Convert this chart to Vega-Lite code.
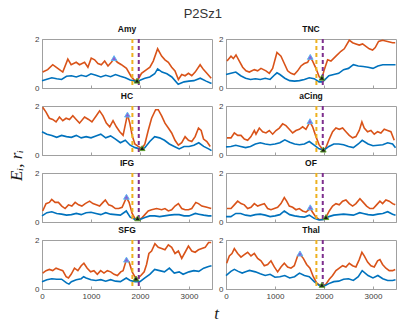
{
"$schema":"https://vega.github.io/schema/vega-lite/v6.json",
"autosize":{"type":"pad"},
"padding":{"left":6,"top":8,"right":10,"bottom":5},
"title":{"text":"P2Sz1","fontSize":13,"fontWeight":"normal","color":"#333333","offset":3,"anchor":"middle"},
"datasets":{
"ev":[{"k":"a","t":1845},{"k":"b","t":1975}],
"mk":[
{"p":"Amy","k":"peak","t":1471,"v":1.22},{"p":"Amy","k":"min","t":1940,"v":0.30},
{"p":"TNC","k":"peak","t":1720,"v":1.27},{"p":"TNC","k":"min","t":1958,"v":0.42},
{"p":"HC","k":"peak","t":1744,"v":1.65},{"p":"HC","k":"min","t":2045,"v":0.28},
{"p":"aCing","k":"peak","t":1714,"v":1.38},{"p":"aCing","k":"min","t":1986,"v":0.22},
{"p":"IFG","k":"peak","t":1724,"v":1.03},{"p":"IFG","k":"min","t":1950,"v":0.15},
{"p":"OF","k":"peak","t":1720,"v":0.60},{"p":"OF","k":"min","t":2040,"v":0.20},
{"p":"SFG","k":"peak","t":1724,"v":1.20},{"p":"SFG","k":"min","t":1918,"v":0.43},
{"p":"Thal","k":"peak","t":1510,"v":1.45},{"p":"Thal","k":"min","t":1958,"v":0.17}
],
"tr":[
{"p":"Amy","s":"E","t":14,"v":0.65},{"p":"Amy","s":"E","t":116,"v":0.75},{"p":"Amy","s":"E","t":219,"v":0.95},{"p":"Amy","s":"E","t":287,"v":0.85},{"p":"Amy","s":"E","t":356,"v":0.75},{"p":"Amy","s":"E","t":424,"v":0.65},{"p":"Amy","s":"E","t":527,"v":1.18},{"p":"Amy","s":"E","t":595,"v":0.95},{"p":"Amy","s":"E","t":698,"v":1.05},{"p":"Amy","s":"E","t":766,"v":0.95},{"p":"Amy","s":"E","t":869,"v":1.05},{"p":"Amy","s":"E","t":937,"v":0.85},{"p":"Amy","s":"E","t":1005,"v":1.22},{"p":"Amy","s":"E","t":1074,"v":1.15},{"p":"Amy","s":"E","t":1142,"v":1.0},{"p":"Amy","s":"E","t":1211,"v":0.95},{"p":"Amy","s":"E","t":1279,"v":1.1},{"p":"Amy","s":"E","t":1347,"v":0.9},{"p":"Amy","s":"E","t":1416,"v":1.05},{"p":"Amy","s":"E","t":1471,"v":1.2},{"p":"Amy","s":"E","t":1539,"v":1.05},{"p":"Amy","s":"E","t":1621,"v":0.95},{"p":"Amy","s":"E","t":1724,"v":0.8},{"p":"Amy","s":"E","t":1826,"v":0.45},{"p":"Amy","s":"E","t":1895,"v":0.3},{"p":"Amy","s":"E","t":1963,"v":0.35},{"p":"Amy","s":"E","t":2031,"v":0.6},{"p":"Amy","s":"E","t":2134,"v":0.75},{"p":"Amy","s":"E","t":2203,"v":0.85},{"p":"Amy","s":"E","t":2271,"v":1.1},{"p":"Amy","s":"E","t":2360,"v":1.6},{"p":"Amy","s":"E","t":2442,"v":1.3},{"p":"Amy","s":"E","t":2510,"v":1.15},{"p":"Amy","s":"E","t":2579,"v":1.05},{"p":"Amy","s":"E","t":2647,"v":0.85},{"p":"Amy","s":"E","t":2715,"v":0.7},{"p":"Amy","s":"E","t":2784,"v":0.35},{"p":"Amy","s":"E","t":2852,"v":0.55},{"p":"Amy","s":"E","t":2921,"v":0.5},{"p":"Amy","s":"E","t":2989,"v":0.6},{"p":"Amy","s":"E","t":3057,"v":0.5},{"p":"Amy","s":"E","t":3126,"v":0.65},{"p":"Amy","s":"E","t":3228,"v":0.95},{"p":"Amy","s":"E","t":3297,"v":0.75},{"p":"Amy","s":"E","t":3365,"v":0.6},{"p":"Amy","s":"E","t":3454,"v":0.4},
{"p":"Amy","s":"r","t":0,"v":0.30},{"p":"Amy","s":"r","t":100,"v":0.36},{"p":"Amy","s":"r","t":200,"v":0.42},{"p":"Amy","s":"r","t":300,"v":0.38},{"p":"Amy","s":"r","t":400,"v":0.35},{"p":"Amy","s":"r","t":500,"v":0.48},{"p":"Amy","s":"r","t":600,"v":0.50},{"p":"Amy","s":"r","t":700,"v":0.45},{"p":"Amy","s":"r","t":800,"v":0.52},{"p":"Amy","s":"r","t":900,"v":0.47},{"p":"Amy","s":"r","t":1000,"v":0.58},{"p":"Amy","s":"r","t":1100,"v":0.52},{"p":"Amy","s":"r","t":1200,"v":0.45},{"p":"Amy","s":"r","t":1300,"v":0.52},{"p":"Amy","s":"r","t":1400,"v":0.46},{"p":"Amy","s":"r","t":1500,"v":0.55},{"p":"Amy","s":"r","t":1600,"v":0.48},{"p":"Amy","s":"r","t":1700,"v":0.42},{"p":"Amy","s":"r","t":1800,"v":0.33},{"p":"Amy","s":"r","t":1900,"v":0.28},{"p":"Amy","s":"r","t":2000,"v":0.32},{"p":"Amy","s":"r","t":2100,"v":0.40},{"p":"Amy","s":"r","t":2200,"v":0.45},{"p":"Amy","s":"r","t":2300,"v":0.58},{"p":"Amy","s":"r","t":2360,"v":0.78},{"p":"Amy","s":"r","t":2450,"v":0.65},{"p":"Amy","s":"r","t":2550,"v":0.58},{"p":"Amy","s":"r","t":2650,"v":0.45},{"p":"Amy","s":"r","t":2780,"v":0.15},{"p":"Amy","s":"r","t":2900,"v":0.25},{"p":"Amy","s":"r","t":3000,"v":0.28},{"p":"Amy","s":"r","t":3100,"v":0.30},{"p":"Amy","s":"r","t":3230,"v":0.40},{"p":"Amy","s":"r","t":3350,"v":0.28},{"p":"Amy","s":"r","t":3460,"v":0.18},
{"p":"TNC","s":"E","t":20,"v":1.1},{"p":"TNC","s":"E","t":102,"v":1.3},{"p":"TNC","s":"E","t":150,"v":1.2},{"p":"TNC","s":"E","t":204,"v":1.35},{"p":"TNC","s":"E","t":272,"v":1.1},{"p":"TNC","s":"E","t":340,"v":0.85},{"p":"TNC","s":"E","t":408,"v":0.7},{"p":"TNC","s":"E","t":476,"v":0.65},{"p":"TNC","s":"E","t":578,"v":0.75},{"p":"TNC","s":"E","t":646,"v":0.7},{"p":"TNC","s":"E","t":714,"v":0.8},{"p":"TNC","s":"E","t":816,"v":0.7},{"p":"TNC","s":"E","t":884,"v":0.6},{"p":"TNC","s":"E","t":952,"v":0.8},{"p":"TNC","s":"E","t":1040,"v":1.45},{"p":"TNC","s":"E","t":1122,"v":1.3},{"p":"TNC","s":"E","t":1190,"v":1.0},{"p":"TNC","s":"E","t":1258,"v":0.7},{"p":"TNC","s":"E","t":1326,"v":0.6},{"p":"TNC","s":"E","t":1394,"v":0.55},{"p":"TNC","s":"E","t":1462,"v":0.7},{"p":"TNC","s":"E","t":1530,"v":0.9},{"p":"TNC","s":"E","t":1598,"v":1.0},{"p":"TNC","s":"E","t":1666,"v":1.05},{"p":"TNC","s":"E","t":1720,"v":1.25},{"p":"TNC","s":"E","t":1768,"v":1.1},{"p":"TNC","s":"E","t":1836,"v":0.8},{"p":"TNC","s":"E","t":1904,"v":0.45},{"p":"TNC","s":"E","t":1958,"v":0.4},{"p":"TNC","s":"E","t":2006,"v":0.75},{"p":"TNC","s":"E","t":2074,"v":1.15},{"p":"TNC","s":"E","t":2142,"v":1.1},{"p":"TNC","s":"E","t":2244,"v":1.3},{"p":"TNC","s":"E","t":2346,"v":1.5},{"p":"TNC","s":"E","t":2414,"v":1.6},{"p":"TNC","s":"E","t":2516,"v":1.95},{"p":"TNC","s":"E","t":2584,"v":1.85},{"p":"TNC","s":"E","t":2652,"v":1.8},{"p":"TNC","s":"E","t":2720,"v":1.75},{"p":"TNC","s":"E","t":2788,"v":1.8},{"p":"TNC","s":"E","t":2856,"v":1.7},{"p":"TNC","s":"E","t":2924,"v":1.6},{"p":"TNC","s":"E","t":2992,"v":1.55},{"p":"TNC","s":"E","t":3046,"v":1.65},{"p":"TNC","s":"E","t":3114,"v":1.9},{"p":"TNC","s":"E","t":3196,"v":1.95},{"p":"TNC","s":"E","t":3298,"v":1.9},{"p":"TNC","s":"E","t":3400,"v":1.85},{"p":"TNC","s":"E","t":3454,"v":1.85},
{"p":"TNC","s":"r","t":0,"v":0.55},{"p":"TNC","s":"r","t":100,"v":0.6},{"p":"TNC","s":"r","t":200,"v":0.65},{"p":"TNC","s":"r","t":300,"v":0.5},{"p":"TNC","s":"r","t":400,"v":0.4},{"p":"TNC","s":"r","t":500,"v":0.35},{"p":"TNC","s":"r","t":600,"v":0.38},{"p":"TNC","s":"r","t":700,"v":0.35},{"p":"TNC","s":"r","t":800,"v":0.4},{"p":"TNC","s":"r","t":900,"v":0.35},{"p":"TNC","s":"r","t":1000,"v":0.55},{"p":"TNC","s":"r","t":1040,"v":0.62},{"p":"TNC","s":"r","t":1100,"v":0.55},{"p":"TNC","s":"r","t":1200,"v":0.4},{"p":"TNC","s":"r","t":1300,"v":0.3},{"p":"TNC","s":"r","t":1400,"v":0.28},{"p":"TNC","s":"r","t":1500,"v":0.3},{"p":"TNC","s":"r","t":1600,"v":0.35},{"p":"TNC","s":"r","t":1700,"v":0.42},{"p":"TNC","s":"r","t":1800,"v":0.38},{"p":"TNC","s":"r","t":1900,"v":0.25},{"p":"TNC","s":"r","t":1960,"v":0.25},{"p":"TNC","s":"r","t":2000,"v":0.3},{"p":"TNC","s":"r","t":2100,"v":0.5},{"p":"TNC","s":"r","t":2200,"v":0.55},{"p":"TNC","s":"r","t":2300,"v":0.6},{"p":"TNC","s":"r","t":2400,"v":0.75},{"p":"TNC","s":"r","t":2500,"v":0.8},{"p":"TNC","s":"r","t":2600,"v":0.95},{"p":"TNC","s":"r","t":2700,"v":0.9},{"p":"TNC","s":"r","t":2800,"v":0.88},{"p":"TNC","s":"r","t":2900,"v":0.85},{"p":"TNC","s":"r","t":3000,"v":0.8},{"p":"TNC","s":"r","t":3100,"v":0.9},{"p":"TNC","s":"r","t":3200,"v":0.95},{"p":"TNC","s":"r","t":3300,"v":0.95},{"p":"TNC","s":"r","t":3460,"v":0.95},
{"p":"HC","s":"E","t":14,"v":1.95},{"p":"HC","s":"E","t":82,"v":1.75},{"p":"HC","s":"E","t":150,"v":1.5},{"p":"HC","s":"E","t":219,"v":1.45},{"p":"HC","s":"E","t":287,"v":1.35},{"p":"HC","s":"E","t":356,"v":1.55},{"p":"HC","s":"E","t":424,"v":1.4},{"p":"HC","s":"E","t":492,"v":1.5},{"p":"HC","s":"E","t":561,"v":1.45},{"p":"HC","s":"E","t":629,"v":1.6},{"p":"HC","s":"E","t":698,"v":1.45},{"p":"HC","s":"E","t":766,"v":1.3},{"p":"HC","s":"E","t":869,"v":1.55},{"p":"HC","s":"E","t":951,"v":1.45},{"p":"HC","s":"E","t":1019,"v":1.35},{"p":"HC","s":"E","t":1108,"v":1.6},{"p":"HC","s":"E","t":1176,"v":1.8},{"p":"HC","s":"E","t":1245,"v":1.6},{"p":"HC","s":"E","t":1313,"v":1.3},{"p":"HC","s":"E","t":1382,"v":1.15},{"p":"HC","s":"E","t":1450,"v":1.4},{"p":"HC","s":"E","t":1518,"v":1.15},{"p":"HC","s":"E","t":1587,"v":0.95},{"p":"HC","s":"E","t":1655,"v":0.8},{"p":"HC","s":"E","t":1744,"v":1.65},{"p":"HC","s":"E","t":1792,"v":1.3},{"p":"HC","s":"E","t":1840,"v":0.8},{"p":"HC","s":"E","t":1895,"v":0.45},{"p":"HC","s":"E","t":1963,"v":0.35},{"p":"HC","s":"E","t":2045,"v":0.27},{"p":"HC","s":"E","t":2100,"v":0.45},{"p":"HC","s":"E","t":2168,"v":1.0},{"p":"HC","s":"E","t":2237,"v":1.5},{"p":"HC","s":"E","t":2319,"v":1.85},{"p":"HC","s":"E","t":2373,"v":1.85},{"p":"HC","s":"E","t":2442,"v":1.6},{"p":"HC","s":"E","t":2510,"v":1.3},{"p":"HC","s":"E","t":2579,"v":1.1},{"p":"HC","s":"E","t":2647,"v":0.9},{"p":"HC","s":"E","t":2715,"v":0.6},{"p":"HC","s":"E","t":2784,"v":0.4},{"p":"HC","s":"E","t":2852,"v":0.5},{"p":"HC","s":"E","t":2921,"v":0.75},{"p":"HC","s":"E","t":2989,"v":0.6},{"p":"HC","s":"E","t":3057,"v":0.55},{"p":"HC","s":"E","t":3126,"v":0.75},{"p":"HC","s":"E","t":3194,"v":1.1},{"p":"HC","s":"E","t":3249,"v":1.0},{"p":"HC","s":"E","t":3297,"v":0.65},{"p":"HC","s":"E","t":3365,"v":0.55},{"p":"HC","s":"E","t":3434,"v":0.35},
{"p":"HC","s":"r","t":0,"v":0.95},{"p":"HC","s":"r","t":100,"v":0.85},{"p":"HC","s":"r","t":200,"v":0.8},{"p":"HC","s":"r","t":300,"v":0.72},{"p":"HC","s":"r","t":400,"v":0.8},{"p":"HC","s":"r","t":500,"v":0.75},{"p":"HC","s":"r","t":600,"v":0.72},{"p":"HC","s":"r","t":700,"v":0.8},{"p":"HC","s":"r","t":800,"v":0.7},{"p":"HC","s":"r","t":900,"v":0.75},{"p":"HC","s":"r","t":1000,"v":0.7},{"p":"HC","s":"r","t":1100,"v":0.78},{"p":"HC","s":"r","t":1200,"v":0.85},{"p":"HC","s":"r","t":1300,"v":0.7},{"p":"HC","s":"r","t":1400,"v":0.78},{"p":"HC","s":"r","t":1500,"v":0.65},{"p":"HC","s":"r","t":1600,"v":0.5},{"p":"HC","s":"r","t":1700,"v":0.6},{"p":"HC","s":"r","t":1800,"v":0.4},{"p":"HC","s":"r","t":1900,"v":0.3},{"p":"HC","s":"r","t":2000,"v":0.25},{"p":"HC","s":"r","t":2050,"v":0.25},{"p":"HC","s":"r","t":2100,"v":0.3},{"p":"HC","s":"r","t":2200,"v":0.55},{"p":"HC","s":"r","t":2300,"v":0.75},{"p":"HC","s":"r","t":2400,"v":0.7},{"p":"HC","s":"r","t":2500,"v":0.6},{"p":"HC","s":"r","t":2600,"v":0.45},{"p":"HC","s":"r","t":2700,"v":0.35},{"p":"HC","s":"r","t":2800,"v":0.25},{"p":"HC","s":"r","t":2900,"v":0.35},{"p":"HC","s":"r","t":3000,"v":0.35},{"p":"HC","s":"r","t":3100,"v":0.4},{"p":"HC","s":"r","t":3200,"v":0.5},{"p":"HC","s":"r","t":3300,"v":0.35},{"p":"HC","s":"r","t":3400,"v":0.25},{"p":"HC","s":"r","t":3460,"v":0.18},
{"p":"aCing","s":"E","t":20,"v":0.7},{"p":"aCing","s":"E","t":102,"v":0.7},{"p":"aCing","s":"E","t":170,"v":0.9},{"p":"aCing","s":"E","t":238,"v":0.8},{"p":"aCing","s":"E","t":306,"v":0.8},{"p":"aCing","s":"E","t":374,"v":0.65},{"p":"aCing","s":"E","t":442,"v":0.6},{"p":"aCing","s":"E","t":510,"v":0.75},{"p":"aCing","s":"E","t":578,"v":1.0},{"p":"aCing","s":"E","t":612,"v":0.85},{"p":"aCing","s":"E","t":680,"v":1.1},{"p":"aCing","s":"E","t":748,"v":0.95},{"p":"aCing","s":"E","t":816,"v":0.9},{"p":"aCing","s":"E","t":884,"v":1.0},{"p":"aCing","s":"E","t":952,"v":0.85},{"p":"aCing","s":"E","t":1020,"v":1.0},{"p":"aCing","s":"E","t":1088,"v":1.1},{"p":"aCing","s":"E","t":1156,"v":1.27},{"p":"aCing","s":"E","t":1224,"v":1.2},{"p":"aCing","s":"E","t":1292,"v":1.05},{"p":"aCing","s":"E","t":1360,"v":0.9},{"p":"aCing","s":"E","t":1428,"v":1.0},{"p":"aCing","s":"E","t":1496,"v":1.05},{"p":"aCing","s":"E","t":1564,"v":1.15},{"p":"aCing","s":"E","t":1632,"v":1.05},{"p":"aCing","s":"E","t":1714,"v":1.35},{"p":"aCing","s":"E","t":1768,"v":1.15},{"p":"aCing","s":"E","t":1836,"v":0.75},{"p":"aCing","s":"E","t":1904,"v":0.4},{"p":"aCing","s":"E","t":1986,"v":0.2},{"p":"aCing","s":"E","t":2040,"v":0.3},{"p":"aCing","s":"E","t":2108,"v":0.65},{"p":"aCing","s":"E","t":2176,"v":0.95},{"p":"aCing","s":"E","t":2244,"v":1.1},{"p":"aCing","s":"E","t":2312,"v":1.05},{"p":"aCing","s":"E","t":2380,"v":1.1},{"p":"aCing","s":"E","t":2448,"v":0.95},{"p":"aCing","s":"E","t":2516,"v":0.8},{"p":"aCing","s":"E","t":2584,"v":0.7},{"p":"aCing","s":"E","t":2652,"v":0.75},{"p":"aCing","s":"E","t":2720,"v":1.0},{"p":"aCing","s":"E","t":2774,"v":1.35},{"p":"aCing","s":"E","t":2822,"v":1.1},{"p":"aCing","s":"E","t":2890,"v":0.95},{"p":"aCing","s":"E","t":2958,"v":1.0},{"p":"aCing","s":"E","t":3026,"v":0.85},{"p":"aCing","s":"E","t":3094,"v":0.95},{"p":"aCing","s":"E","t":3162,"v":0.9},{"p":"aCing","s":"E","t":3230,"v":1.05},{"p":"aCing","s":"E","t":3298,"v":1.0},{"p":"aCing","s":"E","t":3366,"v":0.95},{"p":"aCing","s":"E","t":3434,"v":0.6},
{"p":"aCing","s":"r","t":0,"v":0.33},{"p":"aCing","s":"r","t":100,"v":0.35},{"p":"aCing","s":"r","t":200,"v":0.4},{"p":"aCing","s":"r","t":300,"v":0.35},{"p":"aCing","s":"r","t":400,"v":0.3},{"p":"aCing","s":"r","t":500,"v":0.35},{"p":"aCing","s":"r","t":600,"v":0.45},{"p":"aCing","s":"r","t":700,"v":0.5},{"p":"aCing","s":"r","t":800,"v":0.45},{"p":"aCing","s":"r","t":900,"v":0.42},{"p":"aCing","s":"r","t":1000,"v":0.45},{"p":"aCing","s":"r","t":1100,"v":0.5},{"p":"aCing","s":"r","t":1200,"v":0.62},{"p":"aCing","s":"r","t":1300,"v":0.52},{"p":"aCing","s":"r","t":1400,"v":0.45},{"p":"aCing","s":"r","t":1500,"v":0.42},{"p":"aCing","s":"r","t":1600,"v":0.45},{"p":"aCing","s":"r","t":1700,"v":0.55},{"p":"aCing","s":"r","t":1800,"v":0.4},{"p":"aCing","s":"r","t":1900,"v":0.25},{"p":"aCing","s":"r","t":2000,"v":0.2},{"p":"aCing","s":"r","t":2100,"v":0.35},{"p":"aCing","s":"r","t":2200,"v":0.45},{"p":"aCing","s":"r","t":2300,"v":0.45},{"p":"aCing","s":"r","t":2400,"v":0.42},{"p":"aCing","s":"r","t":2500,"v":0.35},{"p":"aCing","s":"r","t":2600,"v":0.3},{"p":"aCing","s":"r","t":2700,"v":0.45},{"p":"aCing","s":"r","t":2780,"v":0.6},{"p":"aCing","s":"r","t":2900,"v":0.45},{"p":"aCing","s":"r","t":3000,"v":0.38},{"p":"aCing","s":"r","t":3100,"v":0.4},{"p":"aCing","s":"r","t":3200,"v":0.42},{"p":"aCing","s":"r","t":3300,"v":0.5},{"p":"aCing","s":"r","t":3400,"v":0.45},{"p":"aCing","s":"r","t":3460,"v":0.3},
{"p":"IFG","s":"E","t":14,"v":0.45},{"p":"IFG","s":"E","t":82,"v":0.75},{"p":"IFG","s":"E","t":150,"v":0.8},{"p":"IFG","s":"E","t":198,"v":0.92},{"p":"IFG","s":"E","t":267,"v":0.8},{"p":"IFG","s":"E","t":335,"v":0.8},{"p":"IFG","s":"E","t":404,"v":0.65},{"p":"IFG","s":"E","t":472,"v":0.55},{"p":"IFG","s":"E","t":540,"v":0.7},{"p":"IFG","s":"E","t":609,"v":0.65},{"p":"IFG","s":"E","t":677,"v":0.8},{"p":"IFG","s":"E","t":746,"v":0.7},{"p":"IFG","s":"E","t":814,"v":0.65},{"p":"IFG","s":"E","t":882,"v":0.75},{"p":"IFG","s":"E","t":971,"v":0.85},{"p":"IFG","s":"E","t":1040,"v":0.75},{"p":"IFG","s":"E","t":1108,"v":0.7},{"p":"IFG","s":"E","t":1176,"v":0.65},{"p":"IFG","s":"E","t":1245,"v":0.8},{"p":"IFG","s":"E","t":1293,"v":0.9},{"p":"IFG","s":"E","t":1361,"v":0.7},{"p":"IFG","s":"E","t":1430,"v":0.65},{"p":"IFG","s":"E","t":1498,"v":0.55},{"p":"IFG","s":"E","t":1566,"v":0.55},{"p":"IFG","s":"E","t":1635,"v":0.6},{"p":"IFG","s":"E","t":1724,"v":1.0},{"p":"IFG","s":"E","t":1778,"v":0.8},{"p":"IFG","s":"E","t":1840,"v":0.35},{"p":"IFG","s":"E","t":1895,"v":0.15},{"p":"IFG","s":"E","t":1963,"v":0.1},{"p":"IFG","s":"E","t":2031,"v":0.15},{"p":"IFG","s":"E","t":2100,"v":0.3},{"p":"IFG","s":"E","t":2168,"v":0.45},{"p":"IFG","s":"E","t":2237,"v":0.5},{"p":"IFG","s":"E","t":2339,"v":0.55},{"p":"IFG","s":"E","t":2442,"v":0.5},{"p":"IFG","s":"E","t":2510,"v":0.55},{"p":"IFG","s":"E","t":2579,"v":0.45},{"p":"IFG","s":"E","t":2647,"v":0.5},{"p":"IFG","s":"E","t":2715,"v":0.65},{"p":"IFG","s":"E","t":2784,"v":0.75},{"p":"IFG","s":"E","t":2852,"v":0.55},{"p":"IFG","s":"E","t":2921,"v":0.5},{"p":"IFG","s":"E","t":2989,"v":0.5},{"p":"IFG","s":"E","t":3057,"v":0.55},{"p":"IFG","s":"E","t":3140,"v":0.8},{"p":"IFG","s":"E","t":3194,"v":0.75},{"p":"IFG","s":"E","t":3263,"v":0.65},{"p":"IFG","s":"E","t":3365,"v":0.6},{"p":"IFG","s":"E","t":3454,"v":0.55},
{"p":"IFG","s":"r","t":0,"v":0.25},{"p":"IFG","s":"r","t":100,"v":0.38},{"p":"IFG","s":"r","t":200,"v":0.42},{"p":"IFG","s":"r","t":300,"v":0.35},{"p":"IFG","s":"r","t":400,"v":0.32},{"p":"IFG","s":"r","t":500,"v":0.28},{"p":"IFG","s":"r","t":600,"v":0.3},{"p":"IFG","s":"r","t":700,"v":0.35},{"p":"IFG","s":"r","t":800,"v":0.3},{"p":"IFG","s":"r","t":900,"v":0.38},{"p":"IFG","s":"r","t":1000,"v":0.4},{"p":"IFG","s":"r","t":1100,"v":0.35},{"p":"IFG","s":"r","t":1200,"v":0.3},{"p":"IFG","s":"r","t":1300,"v":0.38},{"p":"IFG","s":"r","t":1400,"v":0.32},{"p":"IFG","s":"r","t":1500,"v":0.3},{"p":"IFG","s":"r","t":1600,"v":0.28},{"p":"IFG","s":"r","t":1720,"v":0.45},{"p":"IFG","s":"r","t":1800,"v":0.2},{"p":"IFG","s":"r","t":1900,"v":0.1},{"p":"IFG","s":"r","t":2000,"v":0.1},{"p":"IFG","s":"r","t":2100,"v":0.18},{"p":"IFG","s":"r","t":2200,"v":0.25},{"p":"IFG","s":"r","t":2300,"v":0.25},{"p":"IFG","s":"r","t":2400,"v":0.22},{"p":"IFG","s":"r","t":2500,"v":0.25},{"p":"IFG","s":"r","t":2600,"v":0.28},{"p":"IFG","s":"r","t":2700,"v":0.3},{"p":"IFG","s":"r","t":2800,"v":0.3},{"p":"IFG","s":"r","t":2900,"v":0.25},{"p":"IFG","s":"r","t":3000,"v":0.25},{"p":"IFG","s":"r","t":3130,"v":0.35},{"p":"IFG","s":"r","t":3200,"v":0.32},{"p":"IFG","s":"r","t":3300,"v":0.28},{"p":"IFG","s":"r","t":3400,"v":0.25},{"p":"IFG","s":"r","t":3460,"v":0.25},
{"p":"OF","s":"E","t":20,"v":0.55},{"p":"OF","s":"E","t":102,"v":0.55},{"p":"OF","s":"E","t":170,"v":0.7},{"p":"OF","s":"E","t":238,"v":0.85},{"p":"OF","s":"E","t":306,"v":0.75},{"p":"OF","s":"E","t":374,"v":0.7},{"p":"OF","s":"E","t":442,"v":0.55},{"p":"OF","s":"E","t":510,"v":0.6},{"p":"OF","s":"E","t":578,"v":0.75},{"p":"OF","s":"E","t":646,"v":0.65},{"p":"OF","s":"E","t":714,"v":0.7},{"p":"OF","s":"E","t":782,"v":0.75},{"p":"OF","s":"E","t":850,"v":0.55},{"p":"OF","s":"E","t":918,"v":0.5},{"p":"OF","s":"E","t":986,"v":0.55},{"p":"OF","s":"E","t":1054,"v":0.6},{"p":"OF","s":"E","t":1122,"v":0.75},{"p":"OF","s":"E","t":1190,"v":1.0},{"p":"OF","s":"E","t":1238,"v":0.85},{"p":"OF","s":"E","t":1292,"v":0.65},{"p":"OF","s":"E","t":1360,"v":0.6},{"p":"OF","s":"E","t":1428,"v":0.5},{"p":"OF","s":"E","t":1496,"v":0.55},{"p":"OF","s":"E","t":1564,"v":0.45},{"p":"OF","s":"E","t":1632,"v":0.4},{"p":"OF","s":"E","t":1720,"v":0.55},{"p":"OF","s":"E","t":1768,"v":0.4},{"p":"OF","s":"E","t":1836,"v":0.2},{"p":"OF","s":"E","t":1904,"v":0.1},{"p":"OF","s":"E","t":1972,"v":0.1},{"p":"OF","s":"E","t":2040,"v":0.2},{"p":"OF","s":"E","t":2108,"v":0.45},{"p":"OF","s":"E","t":2176,"v":0.65},{"p":"OF","s":"E","t":2244,"v":0.75},{"p":"OF","s":"E","t":2312,"v":0.7},{"p":"OF","s":"E","t":2380,"v":0.85},{"p":"OF","s":"E","t":2448,"v":0.9},{"p":"OF","s":"E","t":2516,"v":0.75},{"p":"OF","s":"E","t":2584,"v":0.65},{"p":"OF","s":"E","t":2652,"v":0.75},{"p":"OF","s":"E","t":2734,"v":0.95},{"p":"OF","s":"E","t":2802,"v":0.8},{"p":"OF","s":"E","t":2870,"v":0.65},{"p":"OF","s":"E","t":2938,"v":0.55},{"p":"OF","s":"E","t":3006,"v":0.55},{"p":"OF","s":"E","t":3074,"v":0.7},{"p":"OF","s":"E","t":3142,"v":0.85},{"p":"OF","s":"E","t":3196,"v":0.75},{"p":"OF","s":"E","t":3264,"v":0.9},{"p":"OF","s":"E","t":3332,"v":0.85},{"p":"OF","s":"E","t":3400,"v":0.75},{"p":"OF","s":"E","t":3454,"v":0.7},
{"p":"OF","s":"r","t":0,"v":0.22},{"p":"OF","s":"r","t":100,"v":0.22},{"p":"OF","s":"r","t":200,"v":0.35},{"p":"OF","s":"r","t":300,"v":0.35},{"p":"OF","s":"r","t":400,"v":0.28},{"p":"OF","s":"r","t":500,"v":0.25},{"p":"OF","s":"r","t":600,"v":0.3},{"p":"OF","s":"r","t":700,"v":0.32},{"p":"OF","s":"r","t":800,"v":0.28},{"p":"OF","s":"r","t":900,"v":0.22},{"p":"OF","s":"r","t":1000,"v":0.25},{"p":"OF","s":"r","t":1100,"v":0.3},{"p":"OF","s":"r","t":1190,"v":0.45},{"p":"OF","s":"r","t":1300,"v":0.3},{"p":"OF","s":"r","t":1400,"v":0.25},{"p":"OF","s":"r","t":1500,"v":0.22},{"p":"OF","s":"r","t":1600,"v":0.2},{"p":"OF","s":"r","t":1700,"v":0.28},{"p":"OF","s":"r","t":1800,"v":0.15},{"p":"OF","s":"r","t":1900,"v":0.08},{"p":"OF","s":"r","t":2000,"v":0.1},{"p":"OF","s":"r","t":2100,"v":0.22},{"p":"OF","s":"r","t":2200,"v":0.28},{"p":"OF","s":"r","t":2300,"v":0.3},{"p":"OF","s":"r","t":2400,"v":0.32},{"p":"OF","s":"r","t":2500,"v":0.3},{"p":"OF","s":"r","t":2600,"v":0.28},{"p":"OF","s":"r","t":2730,"v":0.38},{"p":"OF","s":"r","t":2800,"v":0.35},{"p":"OF","s":"r","t":2900,"v":0.3},{"p":"OF","s":"r","t":3000,"v":0.28},{"p":"OF","s":"r","t":3100,"v":0.32},{"p":"OF","s":"r","t":3200,"v":0.35},{"p":"OF","s":"r","t":3300,"v":0.42},{"p":"OF","s":"r","t":3400,"v":0.32},{"p":"OF","s":"r","t":3460,"v":0.28},
{"p":"SFG","s":"E","t":14,"v":0.65},{"p":"SFG","s":"E","t":82,"v":0.75},{"p":"SFG","s":"E","t":150,"v":0.8},{"p":"SFG","s":"E","t":219,"v":0.75},{"p":"SFG","s":"E","t":287,"v":0.85},{"p":"SFG","s":"E","t":356,"v":0.8},{"p":"SFG","s":"E","t":424,"v":0.75},{"p":"SFG","s":"E","t":492,"v":0.5},{"p":"SFG","s":"E","t":540,"v":0.45},{"p":"SFG","s":"E","t":595,"v":0.6},{"p":"SFG","s":"E","t":663,"v":0.85},{"p":"SFG","s":"E","t":732,"v":0.75},{"p":"SFG","s":"E","t":800,"v":0.95},{"p":"SFG","s":"E","t":855,"v":1.05},{"p":"SFG","s":"E","t":923,"v":0.85},{"p":"SFG","s":"E","t":992,"v":0.7},{"p":"SFG","s":"E","t":1060,"v":0.75},{"p":"SFG","s":"E","t":1129,"v":0.6},{"p":"SFG","s":"E","t":1197,"v":0.75},{"p":"SFG","s":"E","t":1265,"v":0.65},{"p":"SFG","s":"E","t":1334,"v":0.75},{"p":"SFG","s":"E","t":1402,"v":0.7},{"p":"SFG","s":"E","t":1471,"v":0.6},{"p":"SFG","s":"E","t":1539,"v":0.55},{"p":"SFG","s":"E","t":1607,"v":0.7},{"p":"SFG","s":"E","t":1655,"v":0.75},{"p":"SFG","s":"E","t":1724,"v":1.2},{"p":"SFG","s":"E","t":1778,"v":1.1},{"p":"SFG","s":"E","t":1840,"v":0.7},{"p":"SFG","s":"E","t":1895,"v":0.5},{"p":"SFG","s":"E","t":1950,"v":0.42},{"p":"SFG","s":"E","t":2018,"v":0.55},{"p":"SFG","s":"E","t":2086,"v":0.7},{"p":"SFG","s":"E","t":2134,"v":1.0},{"p":"SFG","s":"E","t":2182,"v":1.45},{"p":"SFG","s":"E","t":2237,"v":1.55},{"p":"SFG","s":"E","t":2305,"v":1.85},{"p":"SFG","s":"E","t":2373,"v":1.7},{"p":"SFG","s":"E","t":2442,"v":1.65},{"p":"SFG","s":"E","t":2510,"v":1.6},{"p":"SFG","s":"E","t":2579,"v":1.8},{"p":"SFG","s":"E","t":2647,"v":1.7},{"p":"SFG","s":"E","t":2715,"v":1.45},{"p":"SFG","s":"E","t":2784,"v":1.55},{"p":"SFG","s":"E","t":2852,"v":1.25},{"p":"SFG","s":"E","t":2921,"v":1.5},{"p":"SFG","s":"E","t":2989,"v":1.75},{"p":"SFG","s":"E","t":3057,"v":1.55},{"p":"SFG","s":"E","t":3126,"v":1.5},{"p":"SFG","s":"E","t":3194,"v":1.6},{"p":"SFG","s":"E","t":3263,"v":1.65},{"p":"SFG","s":"E","t":3331,"v":1.7},{"p":"SFG","s":"E","t":3400,"v":1.9},{"p":"SFG","s":"E","t":3454,"v":1.9},
{"p":"SFG","s":"r","t":0,"v":0.3},{"p":"SFG","s":"r","t":100,"v":0.38},{"p":"SFG","s":"r","t":200,"v":0.42},{"p":"SFG","s":"r","t":300,"v":0.4},{"p":"SFG","s":"r","t":400,"v":0.4},{"p":"SFG","s":"r","t":500,"v":0.25},{"p":"SFG","s":"r","t":550,"v":0.2},{"p":"SFG","s":"r","t":600,"v":0.3},{"p":"SFG","s":"r","t":700,"v":0.38},{"p":"SFG","s":"r","t":800,"v":0.42},{"p":"SFG","s":"r","t":850,"v":0.5},{"p":"SFG","s":"r","t":900,"v":0.45},{"p":"SFG","s":"r","t":1000,"v":0.38},{"p":"SFG","s":"r","t":1100,"v":0.35},{"p":"SFG","s":"r","t":1200,"v":0.38},{"p":"SFG","s":"r","t":1300,"v":0.32},{"p":"SFG","s":"r","t":1400,"v":0.38},{"p":"SFG","s":"r","t":1500,"v":0.32},{"p":"SFG","s":"r","t":1600,"v":0.3},{"p":"SFG","s":"r","t":1720,"v":0.45},{"p":"SFG","s":"r","t":1800,"v":0.35},{"p":"SFG","s":"r","t":1900,"v":0.3},{"p":"SFG","s":"r","t":2000,"v":0.3},{"p":"SFG","s":"r","t":2100,"v":0.45},{"p":"SFG","s":"r","t":2200,"v":0.6},{"p":"SFG","s":"r","t":2300,"v":0.8},{"p":"SFG","s":"r","t":2400,"v":0.75},{"p":"SFG","s":"r","t":2500,"v":0.7},{"p":"SFG","s":"r","t":2600,"v":0.85},{"p":"SFG","s":"r","t":2700,"v":0.65},{"p":"SFG","s":"r","t":2800,"v":0.7},{"p":"SFG","s":"r","t":2880,"v":0.6},{"p":"SFG","s":"r","t":3000,"v":0.7},{"p":"SFG","s":"r","t":3100,"v":0.75},{"p":"SFG","s":"r","t":3200,"v":0.72},{"p":"SFG","s":"r","t":3300,"v":0.85},{"p":"SFG","s":"r","t":3400,"v":0.92},{"p":"SFG","s":"r","t":3460,"v":0.95},
{"p":"Thal","s":"E","t":14,"v":1.05},{"p":"Thal","s":"E","t":68,"v":1.35},{"p":"Thal","s":"E","t":122,"v":1.45},{"p":"Thal","s":"E","t":170,"v":1.65},{"p":"Thal","s":"E","t":238,"v":1.45},{"p":"Thal","s":"E","t":306,"v":1.3},{"p":"Thal","s":"E","t":374,"v":1.4},{"p":"Thal","s":"E","t":442,"v":1.5},{"p":"Thal","s":"E","t":510,"v":1.35},{"p":"Thal","s":"E","t":578,"v":1.45},{"p":"Thal","s":"E","t":646,"v":1.25},{"p":"Thal","s":"E","t":714,"v":1.15},{"p":"Thal","s":"E","t":782,"v":0.95},{"p":"Thal","s":"E","t":850,"v":1.0},{"p":"Thal","s":"E","t":918,"v":1.15},{"p":"Thal","s":"E","t":986,"v":0.9},{"p":"Thal","s":"E","t":1054,"v":0.7},{"p":"Thal","s":"E","t":1122,"v":0.9},{"p":"Thal","s":"E","t":1190,"v":1.05},{"p":"Thal","s":"E","t":1258,"v":0.9},{"p":"Thal","s":"E","t":1326,"v":0.85},{"p":"Thal","s":"E","t":1394,"v":0.95},{"p":"Thal","s":"E","t":1462,"v":1.35},{"p":"Thal","s":"E","t":1510,"v":1.42},{"p":"Thal","s":"E","t":1578,"v":1.25},{"p":"Thal","s":"E","t":1646,"v":1.0},{"p":"Thal","s":"E","t":1714,"v":0.85},{"p":"Thal","s":"E","t":1782,"v":0.5},{"p":"Thal","s":"E","t":1850,"v":0.25},{"p":"Thal","s":"E","t":1918,"v":0.15},{"p":"Thal","s":"E","t":1972,"v":0.12},{"p":"Thal","s":"E","t":2040,"v":0.2},{"p":"Thal","s":"E","t":2108,"v":0.4},{"p":"Thal","s":"E","t":2176,"v":0.55},{"p":"Thal","s":"E","t":2244,"v":0.75},{"p":"Thal","s":"E","t":2312,"v":0.85},{"p":"Thal","s":"E","t":2380,"v":0.95},{"p":"Thal","s":"E","t":2448,"v":0.9},{"p":"Thal","s":"E","t":2516,"v":1.05},{"p":"Thal","s":"E","t":2584,"v":0.95},{"p":"Thal","s":"E","t":2652,"v":0.9},{"p":"Thal","s":"E","t":2720,"v":1.2},{"p":"Thal","s":"E","t":2774,"v":1.5},{"p":"Thal","s":"E","t":2822,"v":1.35},{"p":"Thal","s":"E","t":2890,"v":1.1},{"p":"Thal","s":"E","t":2958,"v":0.95},{"p":"Thal","s":"E","t":3026,"v":0.9},{"p":"Thal","s":"E","t":3094,"v":1.15},{"p":"Thal","s":"E","t":3142,"v":1.2},{"p":"Thal","s":"E","t":3196,"v":1.0},{"p":"Thal","s":"E","t":3264,"v":0.85},{"p":"Thal","s":"E","t":3332,"v":0.75},{"p":"Thal","s":"E","t":3400,"v":0.75},{"p":"Thal","s":"E","t":3454,"v":0.8},
{"p":"Thal","s":"r","t":0,"v":0.55},{"p":"Thal","s":"r","t":100,"v":0.72},{"p":"Thal","s":"r","t":170,"v":0.8},{"p":"Thal","s":"r","t":250,"v":0.72},{"p":"Thal","s":"r","t":330,"v":0.65},{"p":"Thal","s":"r","t":400,"v":0.7},{"p":"Thal","s":"r","t":480,"v":0.76},{"p":"Thal","s":"r","t":600,"v":0.7},{"p":"Thal","s":"r","t":700,"v":0.62},{"p":"Thal","s":"r","t":800,"v":0.55},{"p":"Thal","s":"r","t":900,"v":0.6},{"p":"Thal","s":"r","t":1000,"v":0.48},{"p":"Thal","s":"r","t":1100,"v":0.5},{"p":"Thal","s":"r","t":1200,"v":0.55},{"p":"Thal","s":"r","t":1300,"v":0.45},{"p":"Thal","s":"r","t":1400,"v":0.5},{"p":"Thal","s":"r","t":1500,"v":0.65},{"p":"Thal","s":"r","t":1600,"v":0.55},{"p":"Thal","s":"r","t":1700,"v":0.5},{"p":"Thal","s":"r","t":1800,"v":0.3},{"p":"Thal","s":"r","t":1900,"v":0.15},{"p":"Thal","s":"r","t":2000,"v":0.12},{"p":"Thal","s":"r","t":2100,"v":0.22},{"p":"Thal","s":"r","t":2200,"v":0.3},{"p":"Thal","s":"r","t":2300,"v":0.32},{"p":"Thal","s":"r","t":2400,"v":0.4},{"p":"Thal","s":"r","t":2500,"v":0.42},{"p":"Thal","s":"r","t":2600,"v":0.35},{"p":"Thal","s":"r","t":2700,"v":0.5},{"p":"Thal","s":"r","t":2780,"v":0.75},{"p":"Thal","s":"r","t":2900,"v":0.55},{"p":"Thal","s":"r","t":3000,"v":0.45},{"p":"Thal","s":"r","t":3100,"v":0.55},{"p":"Thal","s":"r","t":3200,"v":0.42},{"p":"Thal","s":"r","t":3300,"v":0.35},{"p":"Thal","s":"r","t":3400,"v":0.35},{"p":"Thal","s":"r","t":3460,"v":0.38}
]
},
"columns":2,
"spacing":{"row":18,"column":14},
"bounds":"flush",
"concat":[
{"title":"Amy","width":170,"height":49,"layer":[
{"data":{"name":"tr"},"transform":[{"filter":"datum.p==='Amy'&&datum.s==='E'"}],"mark":{"type":"line","color":"#D95319","strokeWidth":1.6},"encoding":{"x":{"field":"t","type":"quantitative","scale":{"domain":[0,3470],"nice":false},"axis":{"values":[0,1000,2000,3000],"format":"d","labels":false,"title":null}},"y":{"field":"v","type":"quantitative","scale":{"domain":[0,2],"nice":false},"axis":{"values":[0,1,2],"title":null}}}},
{"data":{"name":"tr"},"transform":[{"filter":"datum.p==='Amy'&&datum.s==='r'"}],"mark":{"type":"line","color":"#0072BD","strokeWidth":1.6},"encoding":{"x":{"field":"t","type":"quantitative"},"y":{"field":"v","type":"quantitative"}}},
{"data":{"name":"ev"},"mark":{"type":"rule","strokeDash":[4,3],"strokeWidth":2},"encoding":{"x":{"field":"t","type":"quantitative"},"color":{"field":"k","type":"nominal","scale":{"domain":["a","b"],"range":["#EDB120","#7E2F8E"]},"legend":null}}},
{"data":{"name":"mk"},"transform":[{"filter":"datum.p==='Amy'"}],"mark":{"type":"point","shape":"triangle-up","filled":true,"size":32,"strokeWidth":1,"opacity":1},"encoding":{"x":{"field":"t","type":"quantitative"},"y":{"field":"v","type":"quantitative"},"fill":{"field":"k","type":"nominal","scale":{"domain":["peak","min"],"range":["#8B5FD6","#1a1a1a"]},"legend":null},"stroke":{"field":"k","type":"nominal","scale":{"domain":["peak","min"],"range":["#5CB8F0","#5FA030"]},"legend":null}}}
]},
{"title":"TNC","width":170,"height":49,"layer":[
{"data":{"name":"tr"},"transform":[{"filter":"datum.p==='TNC'&&datum.s==='E'"}],"mark":{"type":"line","color":"#D95319","strokeWidth":1.6},"encoding":{"x":{"field":"t","type":"quantitative","scale":{"domain":[0,3470],"nice":false},"axis":{"values":[0,1000,2000,3000],"format":"d","labels":false,"title":null}},"y":{"field":"v","type":"quantitative","scale":{"domain":[0,2],"nice":false},"axis":{"values":[0,1,2],"title":null}}}},
{"data":{"name":"tr"},"transform":[{"filter":"datum.p==='TNC'&&datum.s==='r'"}],"mark":{"type":"line","color":"#0072BD","strokeWidth":1.6},"encoding":{"x":{"field":"t","type":"quantitative"},"y":{"field":"v","type":"quantitative"}}},
{"data":{"name":"ev"},"mark":{"type":"rule","strokeDash":[4,3],"strokeWidth":2},"encoding":{"x":{"field":"t","type":"quantitative"},"color":{"field":"k","type":"nominal","scale":{"domain":["a","b"],"range":["#EDB120","#7E2F8E"]},"legend":null}}},
{"data":{"name":"mk"},"transform":[{"filter":"datum.p==='TNC'"}],"mark":{"type":"point","shape":"triangle-up","filled":true,"size":32,"strokeWidth":1,"opacity":1},"encoding":{"x":{"field":"t","type":"quantitative"},"y":{"field":"v","type":"quantitative"},"fill":{"field":"k","type":"nominal","scale":{"domain":["peak","min"],"range":["#8B5FD6","#1a1a1a"]},"legend":null},"stroke":{"field":"k","type":"nominal","scale":{"domain":["peak","min"],"range":["#5CB8F0","#5FA030"]},"legend":null}}}
]},
{"title":"HC","width":170,"height":49,"layer":[
{"data":{"name":"tr"},"transform":[{"filter":"datum.p==='HC'&&datum.s==='E'"}],"mark":{"type":"line","color":"#D95319","strokeWidth":1.6},"encoding":{"x":{"field":"t","type":"quantitative","scale":{"domain":[0,3470],"nice":false},"axis":{"values":[0,1000,2000,3000],"format":"d","labels":false,"title":null}},"y":{"field":"v","type":"quantitative","scale":{"domain":[0,2],"nice":false},"axis":{"values":[0,1,2],"title":"Eᵢ, rᵢ","titleX":-26,"titleY":59,"titleBaseline":"middle","titleAlign":"center","titleAngle":-90}}}},
{"data":{"name":"tr"},"transform":[{"filter":"datum.p==='HC'&&datum.s==='r'"}],"mark":{"type":"line","color":"#0072BD","strokeWidth":1.6},"encoding":{"x":{"field":"t","type":"quantitative"},"y":{"field":"v","type":"quantitative"}}},
{"data":{"name":"ev"},"mark":{"type":"rule","strokeDash":[4,3],"strokeWidth":2},"encoding":{"x":{"field":"t","type":"quantitative"},"color":{"field":"k","type":"nominal","scale":{"domain":["a","b"],"range":["#EDB120","#7E2F8E"]},"legend":null}}},
{"data":{"name":"mk"},"transform":[{"filter":"datum.p==='HC'"}],"mark":{"type":"point","shape":"triangle-up","filled":true,"size":32,"strokeWidth":1,"opacity":1},"encoding":{"x":{"field":"t","type":"quantitative"},"y":{"field":"v","type":"quantitative"},"fill":{"field":"k","type":"nominal","scale":{"domain":["peak","min"],"range":["#8B5FD6","#1a1a1a"]},"legend":null},"stroke":{"field":"k","type":"nominal","scale":{"domain":["peak","min"],"range":["#5CB8F0","#5FA030"]},"legend":null}}}
]},
{"title":"aCing","width":170,"height":49,"layer":[
{"data":{"name":"tr"},"transform":[{"filter":"datum.p==='aCing'&&datum.s==='E'"}],"mark":{"type":"line","color":"#D95319","strokeWidth":1.6},"encoding":{"x":{"field":"t","type":"quantitative","scale":{"domain":[0,3470],"nice":false},"axis":{"values":[0,1000,2000,3000],"format":"d","labels":false,"title":null}},"y":{"field":"v","type":"quantitative","scale":{"domain":[0,2],"nice":false},"axis":{"values":[0,1,2],"title":null}}}},
{"data":{"name":"tr"},"transform":[{"filter":"datum.p==='aCing'&&datum.s==='r'"}],"mark":{"type":"line","color":"#0072BD","strokeWidth":1.6},"encoding":{"x":{"field":"t","type":"quantitative"},"y":{"field":"v","type":"quantitative"}}},
{"data":{"name":"ev"},"mark":{"type":"rule","strokeDash":[4,3],"strokeWidth":2},"encoding":{"x":{"field":"t","type":"quantitative"},"color":{"field":"k","type":"nominal","scale":{"domain":["a","b"],"range":["#EDB120","#7E2F8E"]},"legend":null}}},
{"data":{"name":"mk"},"transform":[{"filter":"datum.p==='aCing'"}],"mark":{"type":"point","shape":"triangle-up","filled":true,"size":32,"strokeWidth":1,"opacity":1},"encoding":{"x":{"field":"t","type":"quantitative"},"y":{"field":"v","type":"quantitative"},"fill":{"field":"k","type":"nominal","scale":{"domain":["peak","min"],"range":["#8B5FD6","#1a1a1a"]},"legend":null},"stroke":{"field":"k","type":"nominal","scale":{"domain":["peak","min"],"range":["#5CB8F0","#5FA030"]},"legend":null}}}
]},
{"title":"IFG","width":170,"height":49,"layer":[
{"data":{"name":"tr"},"transform":[{"filter":"datum.p==='IFG'&&datum.s==='E'"}],"mark":{"type":"line","color":"#D95319","strokeWidth":1.6},"encoding":{"x":{"field":"t","type":"quantitative","scale":{"domain":[0,3470],"nice":false},"axis":{"values":[0,1000,2000,3000],"format":"d","labels":false,"title":null}},"y":{"field":"v","type":"quantitative","scale":{"domain":[0,2],"nice":false},"axis":{"values":[0,1,2],"title":null}}}},
{"data":{"name":"tr"},"transform":[{"filter":"datum.p==='IFG'&&datum.s==='r'"}],"mark":{"type":"line","color":"#0072BD","strokeWidth":1.6},"encoding":{"x":{"field":"t","type":"quantitative"},"y":{"field":"v","type":"quantitative"}}},
{"data":{"name":"ev"},"mark":{"type":"rule","strokeDash":[4,3],"strokeWidth":2},"encoding":{"x":{"field":"t","type":"quantitative"},"color":{"field":"k","type":"nominal","scale":{"domain":["a","b"],"range":["#EDB120","#7E2F8E"]},"legend":null}}},
{"data":{"name":"mk"},"transform":[{"filter":"datum.p==='IFG'"}],"mark":{"type":"point","shape":"triangle-up","filled":true,"size":32,"strokeWidth":1,"opacity":1},"encoding":{"x":{"field":"t","type":"quantitative"},"y":{"field":"v","type":"quantitative"},"fill":{"field":"k","type":"nominal","scale":{"domain":["peak","min"],"range":["#8B5FD6","#1a1a1a"]},"legend":null},"stroke":{"field":"k","type":"nominal","scale":{"domain":["peak","min"],"range":["#5CB8F0","#5FA030"]},"legend":null}}}
]},
{"title":"OF","width":170,"height":49,"layer":[
{"data":{"name":"tr"},"transform":[{"filter":"datum.p==='OF'&&datum.s==='E'"}],"mark":{"type":"line","color":"#D95319","strokeWidth":1.6},"encoding":{"x":{"field":"t","type":"quantitative","scale":{"domain":[0,3470],"nice":false},"axis":{"values":[0,1000,2000,3000],"format":"d","labels":false,"title":null}},"y":{"field":"v","type":"quantitative","scale":{"domain":[0,2],"nice":false},"axis":{"values":[0,1,2],"title":null}}}},
{"data":{"name":"tr"},"transform":[{"filter":"datum.p==='OF'&&datum.s==='r'"}],"mark":{"type":"line","color":"#0072BD","strokeWidth":1.6},"encoding":{"x":{"field":"t","type":"quantitative"},"y":{"field":"v","type":"quantitative"}}},
{"data":{"name":"ev"},"mark":{"type":"rule","strokeDash":[4,3],"strokeWidth":2},"encoding":{"x":{"field":"t","type":"quantitative"},"color":{"field":"k","type":"nominal","scale":{"domain":["a","b"],"range":["#EDB120","#7E2F8E"]},"legend":null}}},
{"data":{"name":"mk"},"transform":[{"filter":"datum.p==='OF'"}],"mark":{"type":"point","shape":"triangle-up","filled":true,"size":32,"strokeWidth":1,"opacity":1},"encoding":{"x":{"field":"t","type":"quantitative"},"y":{"field":"v","type":"quantitative"},"fill":{"field":"k","type":"nominal","scale":{"domain":["peak","min"],"range":["#8B5FD6","#1a1a1a"]},"legend":null},"stroke":{"field":"k","type":"nominal","scale":{"domain":["peak","min"],"range":["#5CB8F0","#5FA030"]},"legend":null}}}
]},
{"title":"SFG","width":170,"height":49,"layer":[
{"data":{"name":"tr"},"transform":[{"filter":"datum.p==='SFG'&&datum.s==='E'"}],"mark":{"type":"line","color":"#D95319","strokeWidth":1.6},"encoding":{"x":{"field":"t","type":"quantitative","scale":{"domain":[0,3470],"nice":false},"axis":{"values":[0,1000,2000,3000],"format":"d","title":"t","titleX":174,"titleY":24,"titleBaseline":"middle","titleAlign":"center"}},"y":{"field":"v","type":"quantitative","scale":{"domain":[0,2],"nice":false},"axis":{"values":[0,1,2],"title":null}}}},
{"data":{"name":"tr"},"transform":[{"filter":"datum.p==='SFG'&&datum.s==='r'"}],"mark":{"type":"line","color":"#0072BD","strokeWidth":1.6},"encoding":{"x":{"field":"t","type":"quantitative"},"y":{"field":"v","type":"quantitative"}}},
{"data":{"name":"ev"},"mark":{"type":"rule","strokeDash":[4,3],"strokeWidth":2},"encoding":{"x":{"field":"t","type":"quantitative"},"color":{"field":"k","type":"nominal","scale":{"domain":["a","b"],"range":["#EDB120","#7E2F8E"]},"legend":null}}},
{"data":{"name":"mk"},"transform":[{"filter":"datum.p==='SFG'"}],"mark":{"type":"point","shape":"triangle-up","filled":true,"size":32,"strokeWidth":1,"opacity":1},"encoding":{"x":{"field":"t","type":"quantitative"},"y":{"field":"v","type":"quantitative"},"fill":{"field":"k","type":"nominal","scale":{"domain":["peak","min"],"range":["#8B5FD6","#1a1a1a"]},"legend":null},"stroke":{"field":"k","type":"nominal","scale":{"domain":["peak","min"],"range":["#5CB8F0","#5FA030"]},"legend":null}}}
]},
{"title":"Thal","width":170,"height":49,"layer":[
{"data":{"name":"tr"},"transform":[{"filter":"datum.p==='Thal'&&datum.s==='E'"}],"mark":{"type":"line","color":"#D95319","strokeWidth":1.6},"encoding":{"x":{"field":"t","type":"quantitative","scale":{"domain":[0,3470],"nice":false},"axis":{"values":[0,1000,2000,3000],"format":"d","title":null}},"y":{"field":"v","type":"quantitative","scale":{"domain":[0,2],"nice":false},"axis":{"values":[0,1,2],"title":null}}}},
{"data":{"name":"tr"},"transform":[{"filter":"datum.p==='Thal'&&datum.s==='r'"}],"mark":{"type":"line","color":"#0072BD","strokeWidth":1.6},"encoding":{"x":{"field":"t","type":"quantitative"},"y":{"field":"v","type":"quantitative"}}},
{"data":{"name":"ev"},"mark":{"type":"rule","strokeDash":[4,3],"strokeWidth":2},"encoding":{"x":{"field":"t","type":"quantitative"},"color":{"field":"k","type":"nominal","scale":{"domain":["a","b"],"range":["#EDB120","#7E2F8E"]},"legend":null}}},
{"data":{"name":"mk"},"transform":[{"filter":"datum.p==='Thal'"}],"mark":{"type":"point","shape":"triangle-up","filled":true,"size":32,"strokeWidth":1,"opacity":1},"encoding":{"x":{"field":"t","type":"quantitative"},"y":{"field":"v","type":"quantitative"},"fill":{"field":"k","type":"nominal","scale":{"domain":["peak","min"],"range":["#8B5FD6","#1a1a1a"]},"legend":null},"stroke":{"field":"k","type":"nominal","scale":{"domain":["peak","min"],"range":["#5CB8F0","#5FA030"]},"legend":null}}}
]}
],
"config":{
"font":"Liberation Sans",
"view":{"stroke":"#a0a0a0","strokeWidth":1},
"axis":{"grid":false,"domainColor":"#a0a0a0","tickColor":"#a0a0a0","tickSize":-3,"labelPadding":6,"labelFontSize":8,"labelColor":"#404040","labelFont":"Liberation Sans","titleFont":"Liberation Serif","titleFontStyle":"italic","titleFontWeight":"normal","titleFontSize":17,"titleColor":"#1a1a1a"},
"axisX":{"labelFlush":false},
"title":{"fontSize":8.5,"fontWeight":"bold","color":"#111111","offset":2,"font":"Liberation Sans"}
}
}
